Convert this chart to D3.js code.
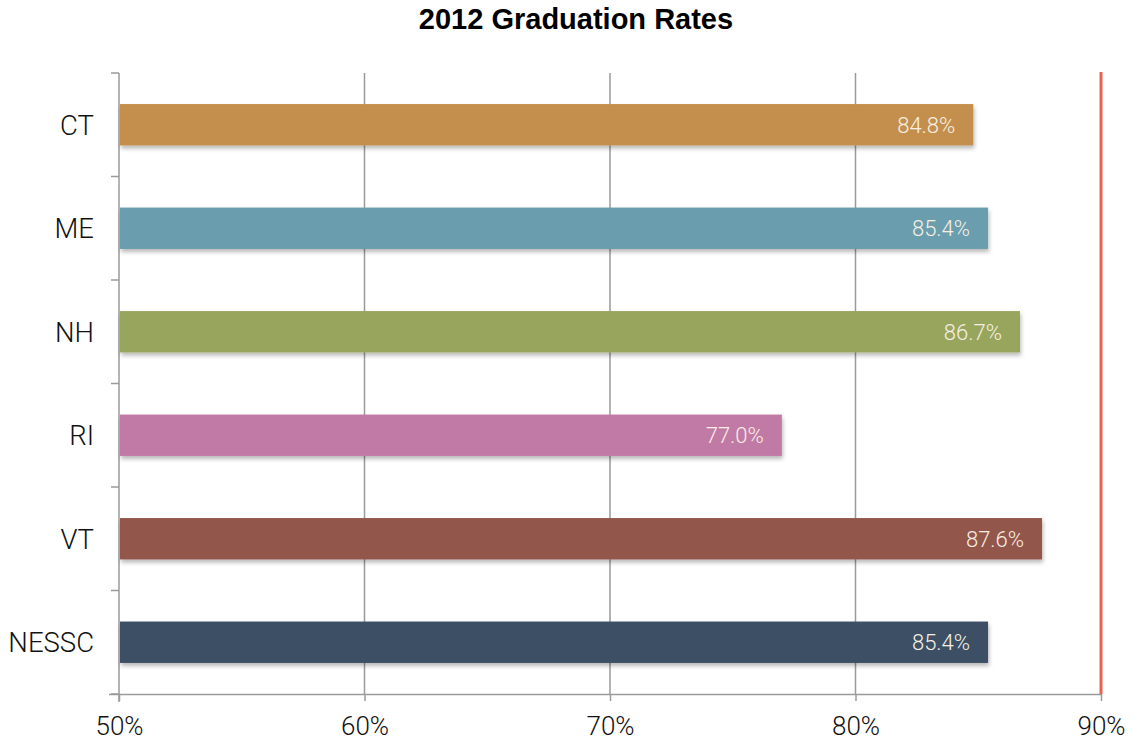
<!DOCTYPE html>
<html>
<head>
<meta charset="utf-8">
<script src="https://cdn.jsdelivr.net/npm/d3@7"></script>
<style>
  html, body { margin: 0; padding: 0; background: #fff; }
  svg { display: block; }
</style>
</head>
<body>
<svg id="chart" width="1133" height="744"></svg>
<script>
// Graduation rates by state, 2012 (percent)
const states = ["CT", "ME", "NH", "RI", "VT", "NESSC"];
const rates = [84.8, 85.4, 86.7, 77.0, 87.6, 85.4];
const barColors = ["#c48f4e", "#6b9dad", "#97a65c", "#c17aa5", "#93574c", "#3c5065"];
const xTicks = [50, 60, 70, 80, 90];
const targetRate = 90;

const svg = d3.select("#chart");
const plotTop = 73, plotBottom = 694;

const x = d3.scaleLinear().domain([50, 90]).range([119, 1101]);
const y = d3.scaleBand().domain(states).range([plotTop, plotBottom]).paddingInner(0.6).paddingOuter(0.3);
const yBand = d3.scaleBand().domain(states).range([plotTop, plotBottom]).padding(0);

const defs = svg.append("defs");
const shadow = defs.append("filter").attr("id", "shadow")
  .attr("x", "-5%").attr("y", "-30%").attr("width", "110%").attr("height", "170%");
shadow.append("feDropShadow").attr("dx", 1).attr("dy", 3).attr("stdDeviation", 2)
  .attr("flood-color", "#000").attr("flood-opacity", 0.28);

const labelFont = "Roboto, 'Liberation Sans', sans-serif";

// Title
svg.append("text")
  .attr("x", 576).attr("y", 29)
  .attr("text-anchor", "middle")
  .attr("font-family", "Liberation Sans, Arial, sans-serif")
  .attr("font-weight", "bold").attr("font-size", 29)
  .attr("fill", "#000")
  .text("2012 Graduation Rates");

// Vertical gridlines
svg.append("g").selectAll("line")
  .data(xTicks.filter(t => t > 50 && t < 90))
  .join("line")
  .attr("x1", d => x(d)).attr("x2", d => x(d))
  .attr("y1", plotTop).attr("y2", plotBottom)
  .attr("stroke", "#9a9a9a").attr("stroke-width", 1.5);

// Bottom axis
const xAxis = svg.append("g")
  .attr("transform", `translate(0,${plotBottom})`)
  .call(d3.axisBottom(x).tickValues(xTicks).tickFormat(d => d + "%").tickSize(7).tickPadding(16));
xAxis.select(".domain").attr("stroke", "#9a9a9a").attr("stroke-width", 1.5)
  .attr("d", `M${x(50) - 10},0.5H${x(90)}`);
xAxis.selectAll(".tick line").attr("stroke", "#9a9a9a").attr("stroke-width", 1.5);
xAxis.selectAll(".tick text")
  .attr("font-family", labelFont).attr("font-weight", 300)
  .attr("font-size", 26).attr("fill", "#111");

// Left axis with ticks at band boundaries
const yAxis = svg.append("g").attr("transform", `translate(${x(50)},0)`);
yAxis.append("line")
  .attr("x1", 0).attr("x2", 0).attr("y1", plotTop).attr("y2", plotBottom + 8)
  .attr("stroke", "#9a9a9a").attr("stroke-width", 1.5);
const boundaries = states.map(s => yBand(s)).concat([plotBottom]);
yAxis.selectAll("line.tk").data(boundaries).join("line")
  .attr("class", "tk")
  .attr("x1", -8).attr("x2", 0)
  .attr("y1", d => d).attr("y2", d => d)
  .attr("stroke", "#9a9a9a").attr("stroke-width", 1.5);
yAxis.selectAll("text").data(states).join("text")
  .attr("x", -25)
  .attr("y", d => y(d) + y.bandwidth() / 2)
  .attr("dy", "0.36em")
  .attr("text-anchor", "end")
  .attr("font-family", labelFont).attr("font-weight", 300)
  .attr("font-size", 27.5).attr("fill", "#111")
  .text(d => d);

// Bars
const data = states.map((s, i) => ({ state: s, rate: rates[i], color: barColors[i] }));
svg.append("g").selectAll("rect").data(data).join("rect")
  .attr("x", x(50) + 1)
  .attr("y", d => y(d.state))
  .attr("width", d => x(d.rate) - x(50) - 1)
  .attr("height", y.bandwidth())
  .attr("fill", d => d.color)
  .attr("filter", "url(#shadow)");

// Value labels inside bars
svg.append("g").selectAll("text").data(data).join("text")
  .attr("x", d => x(d.rate) - 18)
  .attr("y", d => y(d.state) + y.bandwidth() / 2)
  .attr("dy", "0.36em")
  .attr("text-anchor", "end")
  .attr("font-family", labelFont)
  .attr("font-weight", 300)
  .attr("font-size", 22)
  .attr("fill", "#f7efe2")
  .text(d => d.rate.toFixed(1) + "%");

// Target line at 90%
svg.append("line")
  .attr("x1", x(targetRate)).attr("x2", x(targetRate))
  .attr("y1", plotTop - 1).attr("y2", plotBottom)
  .attr("stroke", "#e8634d").attr("stroke-width", 3);
</script>
</body>
</html>
